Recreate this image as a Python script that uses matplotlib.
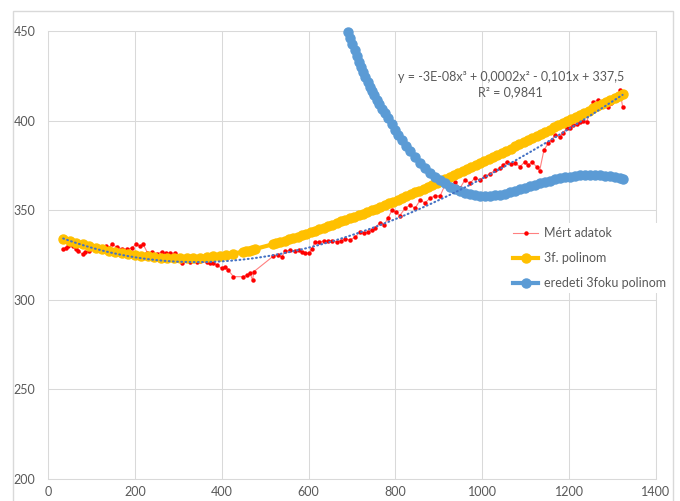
import numpy as np
import matplotlib.pyplot as plt
from matplotlib.patches import Rectangle

plt.rcParams['font.family'] = ['Lato', 'DejaVu Sans']

# measured data (Mért adatok)
meas_x = [35, 42, 47, 58, 64, 70, 80, 85, 95, 108, 120, 133, 140, 147, 158, 170,
          181, 193, 203, 212, 219, 229, 240, 250, 262, 272, 281, 292, 300, 308,
          318, 327, 335, 342, 350, 358, 365, 373, 380, 388, 400, 408, 415, 427,
          450, 458, 465, 471, 474, 519, 530, 538, 546, 557, 569, 579, 584, 592,
          602, 607, 615, 625, 635, 645, 655, 665, 675, 685, 695, 708, 718, 728,
          737, 745, 753, 764, 774, 783, 792, 801, 810, 822, 834, 845, 857, 868,
          880, 891, 903, 914, 926, 937, 949, 960, 972, 983, 995, 1006, 1018, 1029,
          1041, 1048, 1056, 1065, 1075, 1087, 1098, 1106, 1114, 1125, 1132, 1142,
          1152, 1160, 1167, 1179, 1186, 1194, 1202, 1209, 1217, 1225, 1232, 1240,
          1248, 1256, 1267, 1273, 1279, 1290, 1296, 1302, 1310, 1317, 1323]
meas_y = [328.2, 329, 330, 330, 328.5, 327.2, 325.4, 326.9, 327.5, 328.5, 329.5, 330,
          329, 331, 329.5, 328.5, 328.2, 329, 331, 330, 331, 326.3, 326.5, 325.5,
          326.9, 326, 326, 326, 323, 320.4, 322, 321.3, 322, 321.3, 321.5, 322.2,
          321, 320.4, 320.8, 319.4, 317.6, 318.5, 316.6, 312.9, 312.9, 313.8, 314.8,
          311, 315.7, 324.4, 325, 324, 327, 327.8, 327.2, 327.8, 326.9, 326, 326,
          328.2, 332.4, 332, 333, 332.8, 333, 332.4, 333, 334, 333.4, 335, 338, 337,
          338, 339, 340, 343, 342, 345.6, 350, 349, 347, 351, 353, 351, 355.7, 354,
          356.8, 358, 358, 364, 363, 365.7, 362.4, 366.9, 365, 368, 366.9, 369,
          370.2, 372.4, 373.4, 375, 377, 376, 376.2, 374.3, 377, 375, 377, 374.3,
          372, 383.6, 387.3, 389, 392, 391, 393, 395.7, 396, 397.5, 398, 399.4, 400,
          399.4, 404, 410.5, 411.5, 410, 409.7, 407.8, 410, 411.5, 414, 417, 407.8]

# 3f. polinom
poly_x = [35, 50, 65, 80, 95, 110, 125, 140, 155, 170, 185, 200, 215, 230, 245,
          260, 275, 290, 305, 320, 335, 350, 365, 380, 395, 410, 425, 448, 455,
          462, 469, 476, 518, 525, 535, 545, 555, 565, 575, 585, 595, 605, 615,
          625, 635, 645, 655, 665, 675, 685, 695, 705, 715, 725, 735, 745, 755,
          765, 775, 785, 795, 805, 815, 825, 835, 845, 855, 865, 875, 885, 895,
          905, 915, 925, 935, 945, 955, 965, 975, 985, 995, 1005, 1015, 1025, 1035,
          1045, 1055, 1065, 1075, 1085, 1095, 1105, 1115, 1125, 1135, 1145, 1155,
          1165, 1175, 1185, 1195, 1205, 1215, 1225, 1235, 1245, 1255, 1265, 1275,
          1285, 1295, 1305, 1315, 1325]
poly_y = [334.0, 333.0, 331.9, 330.9, 330.0, 329.1, 328.3, 327.5, 326.8, 326.2,
          325.6, 325.1, 324.6, 324.2, 323.9, 323.6, 323.4, 323.3, 323.3, 323.3,
          323.4, 323.6, 323.9, 324.2, 324.6, 325.1, 325.7, 326.8, 327.1, 327.5,
          327.9, 328.3, 331.0, 331.5, 332.2, 332.9, 333.7, 334.5, 335.3, 336.1,
          336.9, 337.8, 338.6, 339.5, 340.3, 341.2, 342.0, 342.9, 343.7, 344.6,
          345.4, 346.3, 347.2, 348.1, 349.0, 349.9, 350.9, 351.8, 352.8, 353.8,
          354.8, 355.8, 356.8, 357.8, 358.8, 359.9, 360.9, 362.0, 363.0, 364.1,
          365.2, 366.3, 367.4, 368.5, 369.6, 370.7, 371.8, 372.9, 374.0, 375.1,
          376.2, 377.3, 378.5, 379.7, 380.8, 382.0, 383.2, 384.4, 385.6, 386.7,
          387.9, 389.1, 390.3, 391.5, 392.6, 393.8, 395.0, 396.2, 397.4, 398.5,
          399.7, 400.9, 402.1, 403.3, 404.4, 405.6, 406.8, 408.0, 409.2, 410.3,
          411.5, 412.7, 413.9, 415.0]

# eredeti 3foku polinom
orig_x = [691, 696, 701, 706, 711, 716, 721, 726, 731, 736, 741, 746, 751, 757, 763,
          769, 776, 783, 791, 799, 807, 815, 824, 834, 845, 857, 868, 880, 891, 903,
          914, 926, 937, 949, 960, 972, 983, 995, 1006, 1018, 1029, 1041, 1052, 1064,
          1075, 1087, 1098, 1110, 1121, 1133, 1144, 1156, 1167, 1179, 1190, 1202,
          1213, 1225, 1236, 1248, 1259, 1271, 1282, 1294, 1305, 1317, 1325]
orig_y = [449.4, 446.0, 442.7, 439.3, 436.0, 432.9, 429.9, 427.0, 424.2, 421.6, 419.0,
          416.6, 414.3, 411.6, 409.0, 406.6, 404.0, 401.4, 398.2, 394.8, 391.8, 389.0,
          386.0, 383.0, 379.7, 376.5, 373.7, 371.0, 368.8, 366.7, 364.9, 363.2, 361.8,
          360.6, 359.6, 358.8, 358.3, 358.0, 357.9, 358.0, 358.3, 358.7, 359.3, 360.0,
          360.8, 361.6, 362.5, 363.4, 364.2, 365.0, 365.8, 366.5, 367.2, 367.8, 368.3,
          368.8, 369.1, 369.4, 369.6, 369.7, 369.7, 369.6, 369.3, 368.9, 368.4, 367.9,
          367.4]

fig = plt.figure(figsize=(6.8, 5.01), dpi=100)
ax = fig.add_axes([48/680, 1-479/501, 608/680, 448/501])

ax.plot(meas_x, meas_y, color='#ff8080', lw=0.8, marker='o', ms=2.2,
        mfc='#ff0000', mec='#ff0000', label='Mért adatok', zorder=3)
ax.plot(poly_x, poly_y, color='#ffc000', lw=3, marker='o', ms=6.5,
        label='3f. polinom', zorder=4)
ax.plot(orig_x, orig_y, color='#5b9bd5', lw=3, marker='o', ms=6.5,
        label='eredeti 3foku polinom', zorder=5, clip_on=False)

# polynomial trendline of the measured data
c = np.polyfit(meas_x, meas_y, 3)
tx = np.linspace(min(meas_x), max(meas_x), 300)
ax.plot(tx, np.polyval(c, tx), color='#4472c4', lw=1.5, ls=(0, (0.4, 1.6)),
        dash_capstyle='round', zorder=6)

ax.set_xlim(0, 1400)
ax.set_ylim(200, 450)
ax.set_xticks(range(0, 1401, 200))
ax.set_yticks(range(200, 451, 50))
ax.grid(True, color='#d9d9d9', lw=0.75)
ax.set_axisbelow(True)
for s in ax.spines.values():
    s.set_color('#d9d9d9')
    s.set_linewidth(0.75)
ax.tick_params(length=0, labelsize=9, labelcolor='#595959')
ax.tick_params(axis='y', pad=9)
ax.tick_params(axis='x', pad=5)

ax.text(1066, 424.5, 'y = -3E-08x³ + 0,0002x² - 0,101x + 337,5',
        ha='center', va='center', fontsize=9, color='#595959', zorder=7)
ax.text(1064, 416, 'R² = 0,9841', ha='center', va='center', fontsize=9,
        color='#595959', zorder=7)

leg = ax.legend(loc='upper left', bbox_to_anchor=((503-48)/608, (479-217)/448),
                frameon=True, facecolor='white', edgecolor='none', framealpha=1,
                fontsize=9, labelspacing=1.05, handlelength=2.0, handletextpad=0.5,
                borderpad=0.3)
for t in leg.get_texts():
    t.set_color('#595959')

fig.patches.append(Rectangle((13/680, -0.1), 660/680, 1.1 - 11/501,
                             transform=fig.transFigure, fill=False,
                             edgecolor='#d9d9d9', lw=1))

fig.savefig('out.png', dpi=100)
